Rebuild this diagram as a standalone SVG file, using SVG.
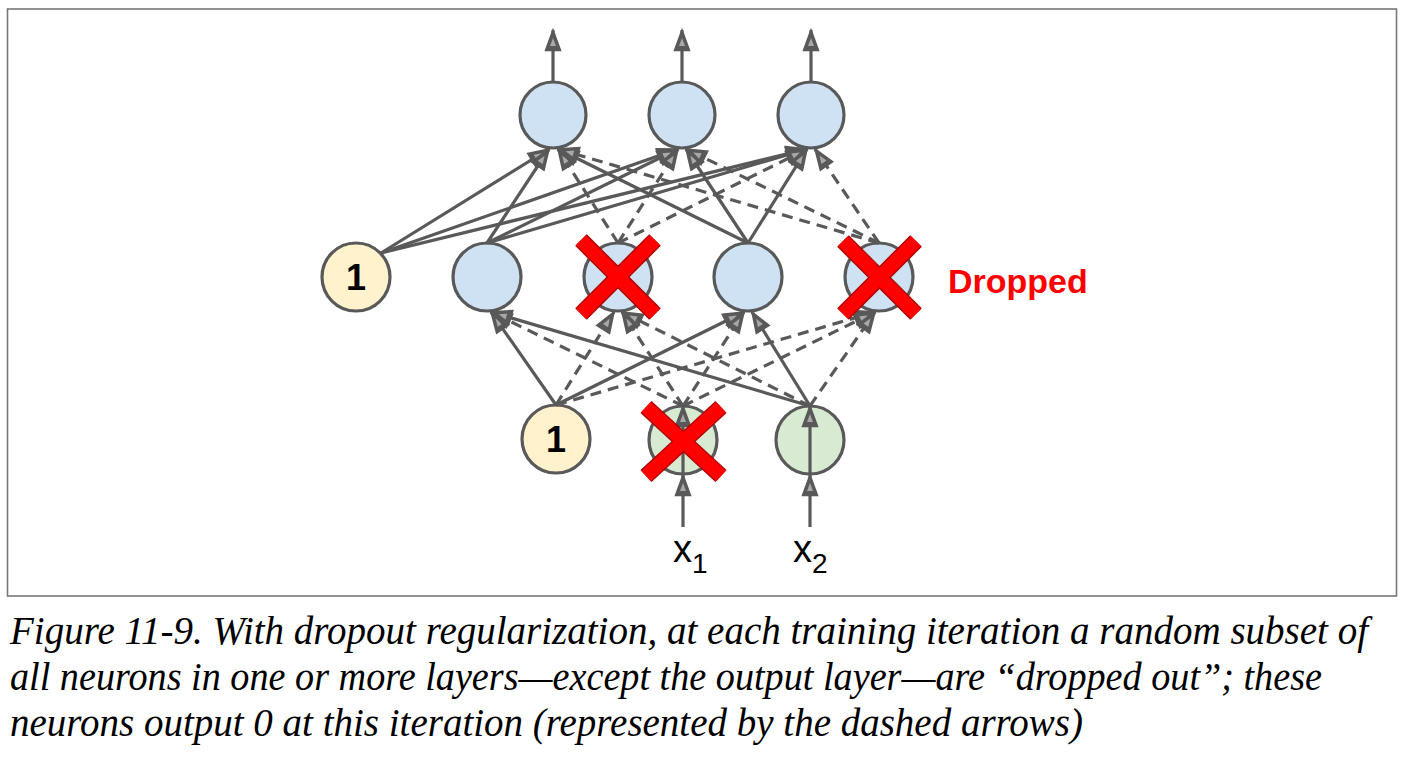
<svg xmlns="http://www.w3.org/2000/svg" width="1404" height="762" viewBox="0 0 1404 762">
<defs>
<style>
.frame{fill:none;stroke:#777;stroke-width:1.6}
.node{stroke:#595959;stroke-width:3.2}
.bias{fill:#fff2cc}
.hid{fill:#cfe2f3}
.inp{fill:#d9ead3}
.one{font-family:"Liberation Sans",Arial,sans-serif;font-weight:bold;font-size:36px;fill:#000;text-anchor:middle}
.e{fill:none;stroke:#595959;stroke-width:3.2;marker-end:url(#ah)}
.d{stroke-dasharray:11 7}
.xo{stroke:#b30000;stroke-width:16.5;stroke-linecap:butt}
.xi{stroke:#ff0000;stroke-width:13.5;stroke-linecap:butt}
.lbl{font-family:"Liberation Sans",Arial,sans-serif;font-size:38px;fill:#000}
.drop{font-family:"Liberation Sans",Arial,sans-serif;font-weight:bold;font-size:34px;fill:#ff0000}
.cap{font-family:"Liberation Serif","Times New Roman",serif;font-style:italic;font-size:39px;fill:#000}
</style>
<marker id="ah" markerUnits="userSpaceOnUse" viewBox="0 0 24 18" markerWidth="24" markerHeight="18" refX="22" refY="9" orient="auto">
<path d="M1.5,1.5 L22,9 L1.5,16.5 z" fill="#595959" stroke="#595959" stroke-width="1.6" stroke-linejoin="miter"/>
<path d="M6,6 L14,9 L6,12 z" fill="#a8a8a8"/>
</marker>
</defs>
<rect class="frame" x="7.5" y="9" width="1389" height="587"/>

<g id="nodes">
<g id="out1"><circle class="node hid" cx="553" cy="115" r="33"/></g>
<g id="out2"><circle class="node hid" cx="682" cy="115" r="33"/></g>
<g id="out3"><circle class="node hid" cx="811" cy="115" r="33"/></g>
<g id="bias2"><circle class="node bias" cx="356" cy="277" r="34"/><text class="one" x="356" y="290">1</text></g>
<g id="h1"><circle class="node hid" cx="487" cy="277" r="34"/></g>
<g id="h2"><circle class="node hid" cx="618" cy="277" r="34"/></g>
<g id="h3"><circle class="node hid" cx="748" cy="277" r="34"/></g>
<g id="h4"><circle class="node hid" cx="879" cy="277" r="34"/></g>
<g id="bias1"><circle class="node bias" cx="556" cy="439" r="34"/><text class="one" x="556" y="452">1</text></g>
<g id="x1"><circle class="node inp" cx="683" cy="440" r="34"/><path class="e" d="M683,473 L683,406"/></g>
<g id="x2"><circle class="node inp" cx="810" cy="440" r="34"/><path class="e" d="M810,473 L810,406"/></g>
</g>

<g id="connectors">
<path class="e" d="M553,82 L553,30"/>
<path class="e" d="M682,82 L682,30"/>
<path class="e" d="M811,82 L811,30"/>
<path class="e" d="M683,527 L683,475"/>
<path class="e" d="M810,527 L810,475"/>

<path class="e" d="M381,253 L549,149"/>
<path class="e" d="M381,253 L678,149"/>
<path class="e" d="M381,253 L807,149"/>
<path class="e" d="M487,243 L549,149"/>
<path class="e" d="M487,243 L678,149"/>
<path class="e" d="M487,243 L807,149"/>
<path class="e d" d="M618,243 L558,149"/>
<path class="e d" d="M618,243 L678,149"/>
<path class="e d" d="M618,243 L807,149"/>
<path class="e" d="M748,243 L558,149"/>
<path class="e" d="M748,243 L686,149"/>
<path class="e" d="M748,243 L807,149"/>
<path class="e d" d="M879,243 L558,149"/>
<path class="e d" d="M879,243 L686,149"/>
<path class="e d" d="M879,243 L815,149"/>

<path class="e" d="M556,405 L491,312"/>
<path class="e d" d="M556,405 L614,312"/>
<path class="e" d="M556,405 L744,312"/>
<path class="e d" d="M556,405 L875,312"/>
<path class="e d" d="M683,406 L491,312"/>
<path class="e d" d="M683,406 L622,312"/>
<path class="e d" d="M683,406 L744,312"/>
<path class="e d" d="M683,406 L875,312"/>
<path class="e" d="M810,406 L491,312"/>
<path class="e d" d="M810,406 L622,312"/>
<path class="e" d="M810,406 L752,312"/>
<path class="e d" d="M810,406 L875,312"/>
</g>

<g id="drop-h2">
<line class="xo" x1="581" y1="240" x2="655" y2="314"/><line class="xo" x1="655" y1="240" x2="581" y2="314"/>
<line class="xi" x1="581" y1="240" x2="655" y2="314"/><line class="xi" x1="655" y1="240" x2="581" y2="314"/>
</g>
<g id="drop-h4">
<line class="xo" x1="843" y1="241" x2="916" y2="314"/><line class="xo" x1="916" y1="241" x2="843" y2="314"/>
<line class="xi" x1="843" y1="241" x2="916" y2="314"/><line class="xi" x1="916" y1="241" x2="843" y2="314"/>
</g>
<g id="drop-x1">
<line class="xo" x1="646" y1="407" x2="721" y2="476"/><line class="xo" x1="721" y1="407" x2="646" y2="476"/>
<line class="xi" x1="646" y1="407" x2="721" y2="476"/><line class="xi" x1="721" y1="407" x2="646" y2="476"/>
</g>

<text class="drop" x="948" y="293">Dropped</text>
<text class="lbl" x="673" y="562">x<tspan font-size="28" dy="11">1</tspan></text>
<text class="lbl" x="793" y="562">x<tspan font-size="28" dy="11">2</tspan></text>

<g id="caption">
<text class="cap" x="10" y="644" textLength="1358" lengthAdjust="spacingAndGlyphs">Figure 11-9. With dropout regularization, at each training iteration a random subset of</text>
<text class="cap" x="10" y="690" textLength="1312" lengthAdjust="spacingAndGlyphs">all neurons in one or more layers—except the output layer—are “dropped out”; these</text>
<text class="cap" x="10" y="736" textLength="1073" lengthAdjust="spacingAndGlyphs">neurons output 0 at this iteration (represented by the dashed arrows)</text>
</g>
</svg>
